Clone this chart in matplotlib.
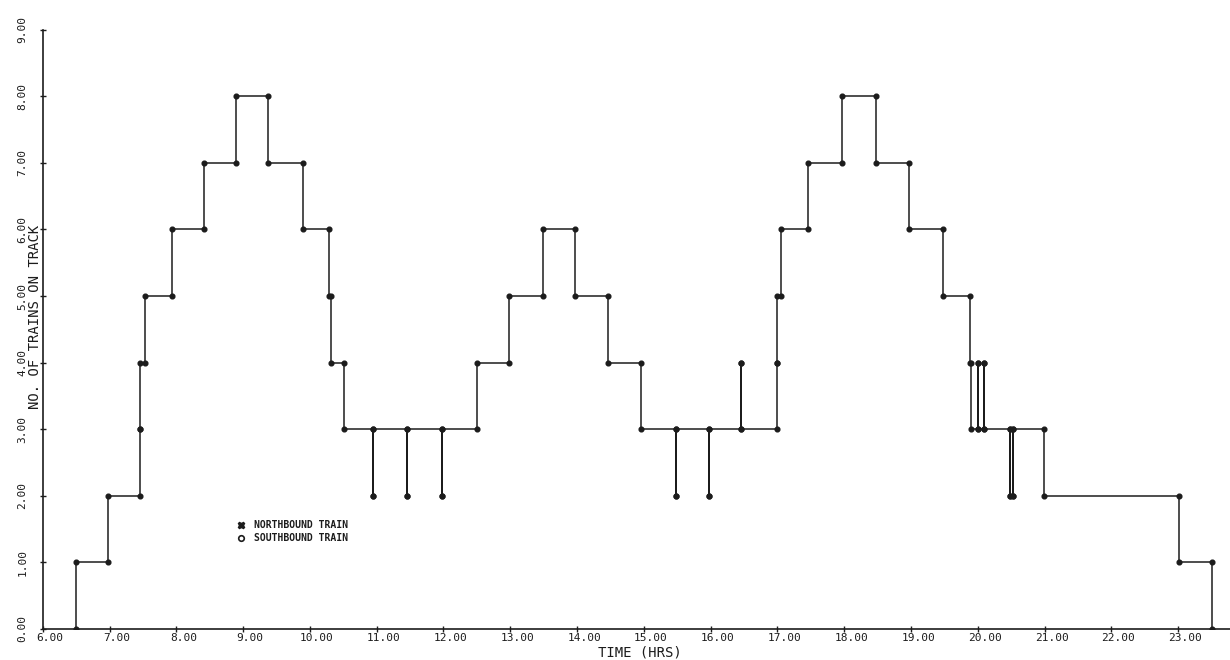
import matplotlib
matplotlib.use("Agg")
import matplotlib.pyplot as plt
import matplotlib.transforms as mtransforms
from matplotlib.lines import Line2D

# Train movements: time of each arrival/departure (hours) and the number of
# trains on the track immediately after that event.
event_hours = [
    6.50, 6.98, 7.46, 7.46, 7.53, 7.93, 8.42, 8.90, 9.38, 9.89,
    10.29, 10.31, 10.51, 10.95, 10.95, 11.46, 11.46, 11.98, 11.98, 12.50,
    12.98, 13.49, 13.97, 14.46, 14.96, 15.48, 15.48, 15.97, 15.97, 16.46,
    16.46, 16.99, 16.99, 17.05, 17.46, 17.97, 18.47, 18.97, 19.48, 19.88,
    19.89, 20.005, 20.005, 20.09, 20.09, 20.48, 20.48, 20.52, 20.52, 20.99,
    23.01, 23.50,
]
trains_after = [
    1, 2, 3, 4, 5, 6, 7, 8, 7, 6,
    5, 4, 3, 2, 3, 2, 3, 2, 3, 4,
    5, 6, 5, 4, 3, 2, 3, 2, 3, 4,
    3, 4, 5, 6, 7, 8, 7, 6, 5, 4,
    3, 4, 3, 4, 3, 2, 3, 2, 3, 2,
    1, 0,
]
start_count = 0

x_ticks = list(range(6, 24))
y_ticks = list(range(0, 10))
x_label = "TIME (HRS)"
y_label = "NO. OF TRAINS ON TRACK"
legend_labels = ["NORTHBOUND TRAIN", "SOUTHBOUND TRAIN"]

# Build the step path: every event contributes a vertical jump.
xs, ys = [], []
prev = start_count
for t, n in zip(event_hours, trains_after):
    xs += [t, t]
    ys += [prev, n]
    prev = n

ink = "#1c1c1c"
mono = "DejaVu Sans Mono"

W, H = 1230, 660
fig = plt.figure(figsize=(W / 100, H / 100), dpi=100)
x0, y_bottom, y_top = 42.7, 629.0, 29.6
ax = fig.add_axes([x0 / W, (H - y_bottom) / H, (W - x0) / W, (y_bottom - y_top) / H])

ax.plot(xs, ys, color=ink, lw=1.1, marker="o", ms=3.4, mfc=ink, mec=ink,
        solid_joinstyle="miter")

px_per_hour = 66.8
ax.set_xlim(6, 6 + (W - x0) / px_per_hour)
ax.set_ylim(0, 9)

for side in ("top", "right"):
    ax.spines[side].set_visible(False)
for side in ("left", "bottom"):
    ax.spines[side].set_color(ink)
    ax.spines[side].set_linewidth(1.2)

ax.set_xticks(x_ticks)
ax.set_yticks(y_ticks)
ax.set_xticklabels([f"{v:.2f}" for v in x_ticks], fontsize=8, family=mono, color=ink)
ax.set_yticklabels([f"{v:.2f}" for v in y_ticks], fontsize=8, family=mono, color=ink,
                   rotation=90, va="center")
ax.tick_params(axis="both", direction="inout", length=4, width=1.0, color=ink)
ax.tick_params(axis="x", pad=1)
ax.tick_params(axis="y", pad=9)

# plotter-style labels sit slightly right of their ticks
shift = mtransforms.ScaledTranslation(7 / 100, 0, fig.dpi_scale_trans)
for lab in ax.get_xticklabels():
    lab.set_transform(lab.get_transform() + shift)

ax.set_xlabel(x_label, fontsize=10, family=mono, color=ink)
ax.xaxis.set_label_coords((640 - x0) / (W - x0), -(652 - y_bottom) / (y_bottom - y_top))
ax.xaxis.label.set_va("center")

ax.set_ylabel(y_label, fontsize=10, family=mono, color=ink)
ax.yaxis.set_label_coords(-(x0 - 35) / (W - x0), 0.52)
ax.yaxis.label.set_va("center")

handles = [
    Line2D([], [], ls="none", marker="X", ms=4.5, color=ink),
    Line2D([], [], ls="none", marker="o", ms=4, mfc="white", mec=ink, mew=1.2),
]
ax.legend(handles, legend_labels, loc="upper left",
          bbox_to_anchor=(237 / W, 1 - 520 / H), bbox_transform=fig.transFigure,
          frameon=False, borderpad=0, borderaxespad=0, handlelength=0.9,
          handletextpad=0.8, labelspacing=0.3,
          prop={"family": mono, "size": 7, "weight": "bold"}, labelcolor=ink)

fig.savefig("out.png", dpi=100, facecolor="white")
